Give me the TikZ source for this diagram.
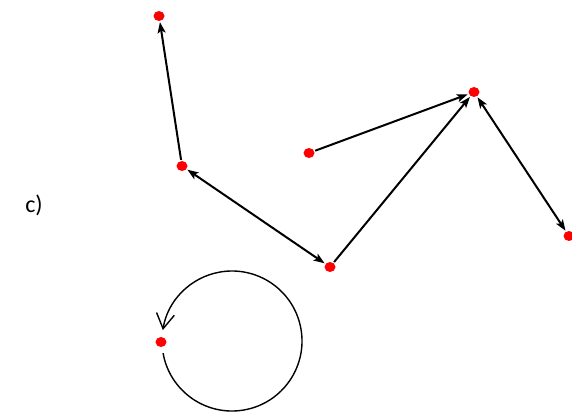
\documentclass[tikz,border=0pt]{standalone}
\usepackage{fontspec}
\setmainfont{Carlito}
\usetikzlibrary{arrows.meta,shapes.geometric}
\begin{document}
\begin{tikzpicture}[x=1pt,y=-1pt,
  vtx/.style={ellipse,fill=red,minimum width=11pt,minimum height=10pt,inner sep=0pt,draw=none},
  edge/.style={line width=2pt,black,shorten >=1pt,shorten <=1pt},
  stl/.tip={Stealth[length=11pt,width=8pt,inset=2.5pt]}]
\useasboundingbox (0,0) rectangle (572,412);
\coordinate (gc) at (232,341);
\draw[line width=1.4pt,-{Straight Barb[length=15pt,width=18pt,line width=1.4pt]}]
  ([shift={(170:70)}]gc) arc[start angle=170,end angle=-171,radius=70];
\node[vtx] (a) at (159,16) {};
\node[vtx] (b) at (182,166) {};
\node[vtx] (c) at (309,153) {};
\node[vtx] (d) at (474,92) {};
\node[vtx] (e) at (330,267) {};
\node[vtx] (f) at (569,236) {};
\node[vtx] (g) at (161,342) {};
\node[font=\fontsize{24}{28}\selectfont] (lbl) at (34,205) {c)};
\draw[edge,-stl] (b) -- (a);
\draw[edge,stl-stl] (b) -- (e);
\draw[edge,-stl] (c) -- (d);
\draw[edge,-stl] (e) -- (d);
\draw[edge,stl-stl] (d) -- (f);
\end{tikzpicture}
\end{document}
